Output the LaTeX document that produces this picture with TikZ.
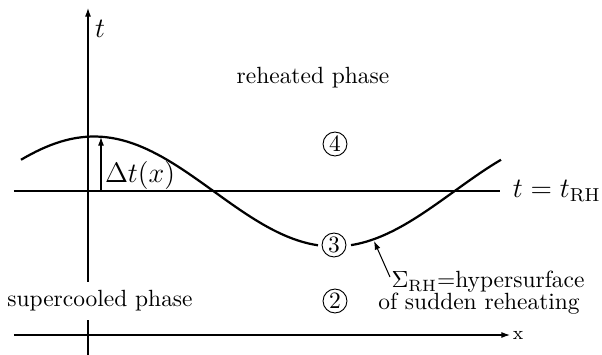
\documentclass[tikz,border=0pt]{standalone}
\usepackage{amsmath}
\usetikzlibrary{arrows.meta,positioning}

\begin{document}
\begin{tikzpicture}[x=0.4266pt, y=-0.4266pt, >=Latex,
  axis/.style={line width=0.45pt},
  thickline/.style={line width=0.95pt},
  tip/.style={-{Latex[length=1.3mm,width=0.9mm]}},
  biglabel/.style={font=\fontsize{11.5}{14}\selectfont},
  zone/.style={circle, draw, line width=0.4pt, fill=white,
    minimum size=10.2pt, inner sep=0pt}]
\useasboundingbox (0,0) rectangle (602,355);
% --- Axes ---
\coordinate (tbot) at (88,355);
\coordinate (ttop) at (88,8);
\coordinate (xleft) at (14,335);
\coordinate (xright) at (510,335);
\draw[axis, tip] (tbot) -- (ttop);
\draw[axis, tip] (xleft) -- (xright);
\node[anchor=west, inner sep=1pt, font=\footnotesize] (xlab) at (xright) {x};
\node[biglabel] (tlab) at (100,29) {$t$};
% --- Reheating time ---
\coordinate (rhleft) at (14,191);
\coordinate (rhright) at (500,191);
\draw[thickline] (rhleft) -- (rhright);
\node[biglabel, right=2pt of rhright] (rhlab) {$t = t_{\mathrm{RH}}$};
% --- Hypersurface of sudden reheating (broken at zone 3) ---
\draw[thickline] plot[domain=21:318, samples=60]
  (\x, {191.5-55*cos((\x-94)*0.75)});
\draw[thickline] plot[domain=351:501, samples=40]
  (\x, {191.5-55*cos((\x-94)*0.75)});
% Delta t arrow
\coordinate (dtbase) at (101,191);
\coordinate (dttop) at (101,137);
\draw[axis, tip] (dtbase) -- (dttop);
\node[biglabel] (dtlab) at (140,175) {$\Delta t(x)$};
% --- Phases and zones ---
\node (reheated) at (313,78) {reheated phase};
\node[fill=white, inner xsep=2pt, inner ysep=3.7pt] (supercooled) at (100,301)
  {supercooled phase};
\node[zone] (four) at (335,144) {4};
\node[zone] (three) at (334,245) {3};
\node[zone] (two) at (335,301) {2};
% --- Sigma annotation ---
\node[inner sep=1pt] (sigma) at (488,282) {$\Sigma_{\mathrm{RH}}$=hypersurface};
\node[inner sep=1pt] (sudden) at (479,304) {of sudden reheating};
\coordinate (sigtail) at (390,277);
\coordinate (sigtip) at (374,241);
\draw[axis, tip] (sigtail) -- (sigtip);
\end{tikzpicture}
\end{document}
